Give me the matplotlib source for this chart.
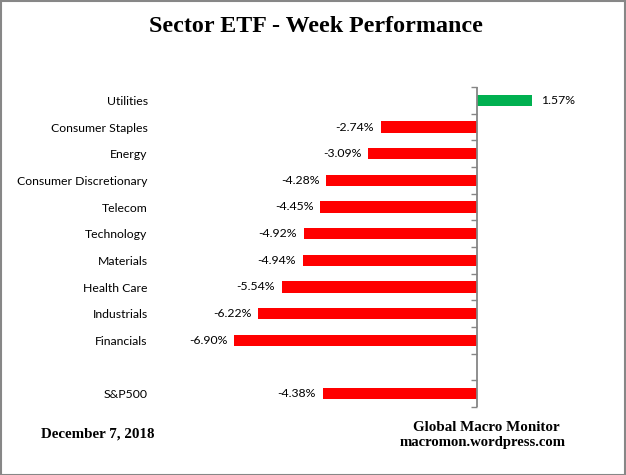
import matplotlib
matplotlib.use("Agg")
import matplotlib.pyplot as plt
import matplotlib.markers as mmarkers
from matplotlib.patches import Rectangle
import numpy as np

categories = ["Utilities", "Consumer Staples", "Energy", "Consumer Discretionary",
              "Telecom", "Technology", "Materials", "Health Care", "Industrials",
              "Financials", "", "S&P500"]
values = [1.57, -2.74, -3.09, -4.28, -4.45, -4.92, -4.94, -5.54, -6.22, -6.90, None, -4.38]
title = "Sector ETF - Week Performance"
date_text = "December 7, 2018"
credit_lines = ["Global Macro Monitor", "macromon.wordpress.com"]

W, H = 626, 475
fig = plt.figure(figsize=(W / 100, H / 100), dpi=100)

# axes placement in pixels
zero_px = 477.0
px_per_pct = 35.2
xmin, xmax = -9.0, 4.0
left_px = zero_px + xmin * px_per_pct
right_px = zero_px + xmax * px_per_pct
top_px, bot_px = 87.0, 407.0
ax = fig.add_axes([left_px / W, 1 - bot_px / H, (right_px - left_px) / W, (bot_px - top_px) / H])

n = len(categories)
ypos = np.arange(n)
label_font = "Lato"
for i, (c, v) in enumerate(zip(categories, values)):
    if v is None:
        continue
    color = "#00B050" if v >= 0 else "#FF0000"
    ax.barh(i, v, height=0.42, color=color, zorder=2)
    txt = f"{v:.2f}%"
    if v >= 0:
        ax.annotate(txt, (v, i), xytext=(6, 0), textcoords="offset points",
                    ha="left", va="center", fontsize=8.8, family=label_font)
    else:
        ax.annotate(txt, (v, i), xytext=(-5, 0), textcoords="offset points",
                    ha="right", va="center", fontsize=8.8, family=label_font)

ax.set_ylim(n - 0.5, -0.5)
ax.set_xlim(xmin, xmax)

# category labels at left of plot area
ax.set_yticks(ypos)
ax.set_yticklabels(categories, fontsize=8.8, family=label_font)
ax.tick_params(axis="y", length=0, pad=9)
ax.set_xticks([])
for s in ax.spines.values():
    s.set_visible(False)

# zero axis line with tick marks at category boundaries
ax.axvline(0, color="#868686", lw=1.3, zorder=3)
bounds = np.arange(n + 1) - 0.5
ax.plot(np.zeros_like(bounds), bounds, linestyle="none",
        marker=mmarkers.TICKLEFT, markersize=4, markeredgewidth=1.0,
        color="#868686", zorder=3, clip_on=False)

# title and footer texts
serif = ["Liberation Serif", "DejaVu Serif"]
fig.text(316 / W, 1 - 32 / H, title, ha="center", va="baseline",
         fontsize=17.3, fontweight="bold", family=serif)
fig.text(41 / W, 1 - 438 / H, date_text, ha="left", va="baseline",
         fontsize=10.8, fontweight="bold", family=serif)
fig.text(486 / W, 1 - 431 / H, credit_lines[0], ha="center", va="baseline",
         fontsize=10.8, fontweight="bold", family=serif)
fig.text(483 / W, 1 - 446 / H, credit_lines[1], ha="center", va="baseline",
         fontsize=10.6, fontweight="bold", family=serif)

# outer border
fig.patches.append(Rectangle((0.5 / W, 0.5 / H), (W - 1.5) / W, (H - 1.5) / H,
                             transform=fig.transFigure, fill=False,
                             edgecolor="#878787", lw=1.5))

fig.savefig("out.png", dpi=100)
